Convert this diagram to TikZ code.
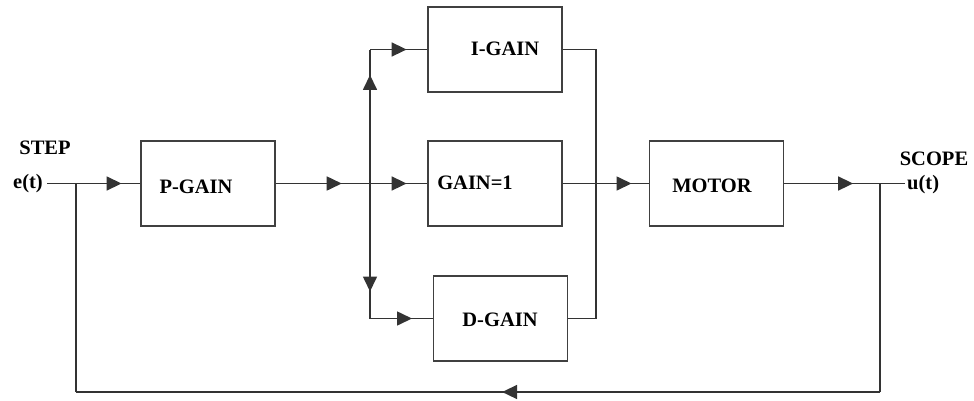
\documentclass[tikz,border=0pt]{standalone}
\usepackage{fontspec}
\setmainfont{Liberation Serif}
\usetikzlibrary{arrows.meta,decorations.markings}
\tikzset{
  wire/.style={draw=black!80, line width=1.6pt},
  box/.style={draw=black!75, line width=1.6pt, minimum width=134pt, minimum height=85pt, inner sep=0pt},
  lbl/.style={font=\fontsize{20.5}{24}\selectfont\bfseries, inner sep=0pt},
  arr/.style={postaction={decorate}, decoration={markings, mark=at position #1 with {\arrow{Triangle[length=15pt,width=14pt]}}}}
}
\begin{document}
\begin{tikzpicture}[x=1pt,y=-1pt]
\useasboundingbox (0,0) rectangle (974,400);
% boxes
\node[box] (pg) at (208,183.5) {};
\node[box] (ig) at (495,49.5) {};
\node[box] (g1) at (495,183.5) {};
\node[box] (dg) at (500.5,318.5) {};
\node[box] (mo) at (716.5,183.5) {};
% box labels
\node[lbl] at (196,187) {P-GAIN};
\node[lbl] at (505,49) {I-GAIN};
\node[lbl] at (475,183) {GAIN=1};
\node[lbl] at (500,320) {D-GAIN};
\node[lbl] at (712,186) {MOTOR};
% terminal labels
\node[lbl, anchor=east] (et) at (43,184) {e(t)};
\node[lbl] (step) at (45,148) {STEP};
\node[lbl] (scope) at (934,159) {SCOPE};
\node[lbl, anchor=west] (ut) at (907,185) {u(t)};
% junctions
\coordinate (ein) at (47,183.5);
\coordinate (fbL) at (76,183.5);
\coordinate (sp) at (370,183.5);
\coordinate (spU) at (370,49.5);
\coordinate (spD) at (370,318.5);
\coordinate (sumI) at (596,49.5);
\coordinate (sumD) at (596,318.5);
\coordinate (fbR) at (880,183.5);
\coordinate (uend) at (905,183.5);
\coordinate (botR) at (880,392);
\coordinate (botL) at (76,392);
% connectors
\draw[wire, arr=0.8] (ein) -- (pg.west);
\draw[wire, arr=0.7] (pg.east) -- (sp);
\draw[wire, arr=0.81] (sp) -- (spU);
\draw[wire, arr=0.64] (spU) -- (ig.west);
\draw[wire, arr=0.64] (sp) -- (g1.west);
\draw[wire, arr=0.8] (sp) -- (spD);
\draw[wire, arr=0.67] (spD) -- (dg.west);
\draw[wire] (ig.east) -- (sumI) -- (sumD) -- (dg.east);
\draw[wire, arr=0.8] (g1.east) -- (mo.west);
\draw[wire, arr=0.57] (mo.east) -- (uend);
\draw[wire] (fbR) -- (botR);
\draw[wire, arr=0.47] (botR) -- (botL);
\draw[wire] (botL) -- (fbL);
\end{tikzpicture}
\end{document}
